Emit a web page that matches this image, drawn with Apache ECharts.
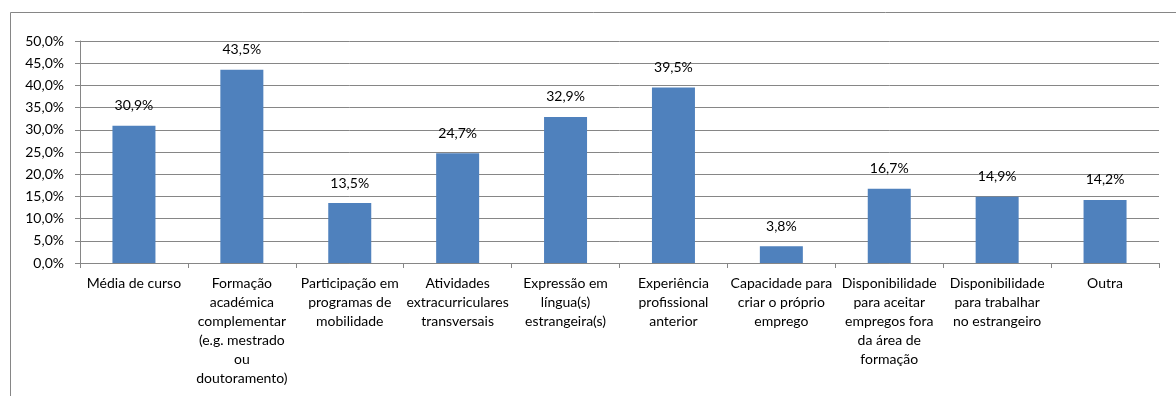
<!DOCTYPE html>
<html>
<head>
<meta charset="utf-8">
<script src="https://cdn.jsdelivr.net/npm/echarts@6/dist/echarts.min.js"></script>
<style>
  html, body { margin: 0; padding: 0; background: #fff; }
  #chart { width: 1176px; height: 396px; }
</style>
</head>
<body>
<div id="chart"></div>
<script>
// Categories (line breaks as laid out under each bar)
const categories = [
  'Média de curso',
  'Formação\nacadémica\ncomplementar\n(e.g. mestrado\nou\ndoutoramento)',
  'Participação em\nprogramas de\nmobilidade',
  'Atividades\nextracurriculares\ntransversais',
  'Expressão em\nlíngua(s)\nestrangeira(s)',
  'Experiência\nprofissional\nanterior',
  'Capacidade para\ncriar o próprio\nemprego',
  'Disponibilidade\npara aceitar\nempregos fora\nda área de\nformação',
  'Disponibilidade\npara trabalhar\nno estrangeiro',
  'Outra'
];

// Percentages per category
const values = [30.9, 43.5, 13.5, 24.7, 32.9, 39.5, 3.8, 16.7, 14.9, 14.2];

// Value axis range
const axisMin = 0;
const axisMax = 50;
const axisStep = 5;

const fmt = v => v.toFixed(1).replace('.', ',') + '%';
const FONT = 'Lato';
const GREY = '#868686';

const chart = echarts.init(document.getElementById('chart'), null, { renderer: 'canvas' });
chart.setOption({
  animation: false,
  backgroundColor: '#ffffff',
  textStyle: { fontFamily: FONT },
  graphic: [{
    type: 'rect',
    shape: { x: 10.5, y: 12.5, width: 1300, height: 500 },
    style: { fill: 'none', stroke: GREY, lineWidth: 1 },
    silent: true,
    z: -1
  }],
  grid: { left: 80, right: 17, top: 41, bottom: 133, containLabel: false },
  xAxis: {
    type: 'category',
    data: categories,
    axisLine: { lineStyle: { color: GREY, width: 1 } },
    axisTick: { show: true, length: 5, lineStyle: { color: GREY } },
    axisLabel: {
      interval: 0,
      color: '#000',
      fontSize: 14,
      fontFamily: FONT,
      lineHeight: 19,
      margin: 11,
      align: 'center'
    }
  },
  yAxis: {
    type: 'value',
    min: axisMin,
    max: axisMax,
    interval: axisStep,
    axisLine: { show: true, lineStyle: { color: GREY, width: 1 } },
    axisTick: { show: true, length: 5, lineStyle: { color: GREY } },
    splitLine: { lineStyle: { color: GREY, width: 1 } },
    axisLabel: {
      color: '#000',
      fontSize: 14,
      fontFamily: FONT,
      margin: 16,
      formatter: v => fmt(v)
    }
  },
  series: [{
    type: 'bar',
    data: values,
    barWidth: 43,
    itemStyle: { color: '#4F81BD' },
    label: {
      show: true,
      position: 'top',
      distance: 13,
      color: '#000',
      fontSize: 14,
      fontFamily: FONT,
      formatter: p => fmt(p.value)
    }
  }]
});
</script>
</body>
</html>
